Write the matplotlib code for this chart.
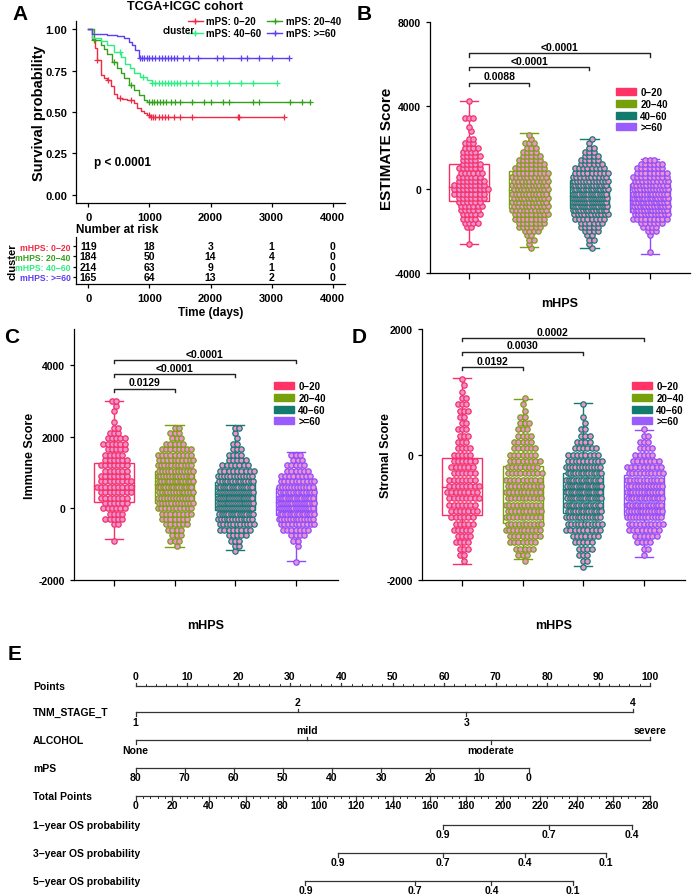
import numpy as np
import matplotlib
matplotlib.use('Agg')
from matplotlib import pyplot as plt
from matplotlib.lines import Line2D
from matplotlib.patches import Patch, Rectangle
from matplotlib import transforms

plt.rcParams['font.family'] = ['Liberation Sans', 'DejaVu Sans']
plt.rcParams['font.weight'] = 'bold'
plt.rcParams['axes.labelweight'] = 'bold'
plt.rcParams['axes.linewidth'] = 0.9

#------------------------  data  ------------------------

# panel A: kaplan-meier steps (time in days, survival)
km_labels = ['mPS: 0−20', 'mPS: 20−40', 'mPS: 40−60', 'mPS: >=60']
km_t_020 = [0, 60, 109, 147, 201, 260, 310, 365, 419, 473, 560, 637, 746, 800, 860, 909, 960, 1018]
km_s_020 = [1.0, 0.94, 0.884, 0.813, 0.723, 0.705, 0.693, 0.659, 0.606, 0.586, 0.578, 0.572, 0.552, 0.522, 0.505, 0.492, 0.48, 0.468]
km_t_2040 = [0, 92, 201, 260, 310, 392, 473, 530, 582, 664, 746, 827, 909, 963]
km_s_2040 = [1.0, 0.934, 0.904, 0.88, 0.853, 0.803, 0.763, 0.735, 0.703, 0.663, 0.633, 0.602, 0.572, 0.558]
km_t_4060 = [0, 65, 201, 310, 419, 528, 609, 691, 746, 854, 963, 1045]
km_s_4060 = [1.0, 0.948, 0.928, 0.904, 0.863, 0.833, 0.793, 0.763, 0.733, 0.713, 0.693, 0.673]
km_t_60 = [0, 65, 310, 473, 582, 664, 718, 773, 827]
km_s_60 = [1.0, 0.974, 0.968, 0.958, 0.948, 0.924, 0.904, 0.873, 0.827]
km_end = [3195, 3630, 3086, 3276]
cens_020 = [150, 330, 520, 700, 1000, 1030, 1060, 1100, 1150, 1200, 1250, 1300, 1400, 1500, 1700, 2450, 2470, 3195]
cens_2040 = [100, 420, 700, 1000, 1050, 1080, 1120, 1170, 1220, 1280, 1350, 1420, 1500, 1700, 1900,
             2000, 2200, 2300, 2700, 2800, 3300, 3500, 3630]
cens_4060 = [520, 900, 1050, 1100, 1150, 1200, 1250, 1300, 1350, 1400, 1450, 1500, 1600, 1700, 1800,
             2000, 2100, 2300, 2500, 2700, 3086]
cens_60 = [850, 880, 920, 960, 1000, 1050, 1100, 1150, 1200, 1250, 1300, 1350, 1400, 1450, 1550, 1650,
           1800, 2100, 2200, 2500, 2600, 2800, 3000, 3276]

risk_labels = ['mHPS: 0−20', 'mHPS: 20−40', 'mHPS: 40−60', 'mHPS: >=60']
risk_times = [0, 1000, 2000, 3000, 4000]
risk_020 = [119, 18, 3, 1, 0]
risk_2040 = [184, 50, 14, 4, 0]
risk_4060 = [214, 63, 9, 1, 0]
risk_60 = [165, 64, 13, 2, 0]

# panels B-D: groups, box statistics and dot counts per value bin
groups = ['0−20', '20−40', '40−60', '>=60']

est_bins = np.arange(-3000, 4201, 200)
est_020 = [0, 0, 1, 0, 0, 0, 2, 4, 4, 5, 5, 6, 6, 7, 8, 9, 8, 7, 6, 6, 6, 5, 4, 5, 4, 4, 3, 2, 0, 1, 1, 0, 3, 0, 0, 0, 1]
est_2040 = [0, 1, 1, 2, 2, 4, 6, 7, 8, 9, 10, 10, 11, 11, 11, 11, 11, 10, 10, 9, 8, 7, 6, 5, 4, 3, 3, 1, 1,
            0, 0, 0, 0, 0, 0, 0, 0]
est_4060 = [0, 1, 1, 2, 2, 4, 5, 6, 8, 11, 14, 16, 17, 17, 16, 15, 14, 12, 10, 9, 8, 6, 5, 4, 3, 2, 1, 1,
            0, 0, 0, 0, 0, 0, 0, 0, 0]
est_60 = [1, 0, 0, 0, 1, 3, 4, 6, 9, 11, 13, 13, 14, 14, 13, 12, 11, 10, 9, 8, 7, 6, 3,
          0, 0, 0, 0, 0, 0, 0, 0, 0, 0, 0, 0, 0, 0]
est_lo = [-2610, -2735, -2815, -3090]
est_q1 = [-560, -895, -895, -1085]
est_med = [100, -50, -335, -495]
est_q3 = [1200, 880, 465, 275]
est_hi = [4200, 2670, 2430, 1440]
est_p = ['0.0088', '<0.0001', '<0.0001']
est_p_y = [5100, 5850, 6500]

imm_bins = np.arange(-1500, 3001, 150)
imm_020 = [0, 0, 0, 0, 1, 0, 0, 2, 5, 4, 6, 6, 7, 8, 9, 8, 7, 6, 7, 6, 5, 5, 6, 5, 3, 2, 1, 0, 1, 1, 2]
imm_2040 = [0, 0, 0, 1, 3, 3, 4, 6, 7, 8, 10, 12, 12, 13, 14, 14, 13, 12, 11, 10, 9, 8, 5, 3, 3, 2, 0,
            0, 0, 0, 0]
imm_4060 = [0, 0, 1, 2, 3, 5, 8, 11, 13, 16, 18, 19, 19, 18, 16, 14, 12, 9, 7, 5, 4, 3, 2, 1, 1, 2,
            0, 0, 0, 0, 0]
imm_60 = [1, 0, 0, 1, 2, 4, 7, 10, 13, 15, 17, 17, 16, 14, 12, 10, 8, 6, 5, 3, 3,
          0, 0, 0, 0, 0, 0, 0, 0, 0, 0]
imm_lo = [-845, -1070, -1160, -1480]
imm_q1 = [187, 140, -47, -195]
imm_med = [620, 670, 390, 170]
imm_q3 = [1255, 1040, 745, 577]
imm_hi = [3000, 2335, 2315, 1570]
imm_p = ['0.0129', '<0.0001', '<0.0001']
imm_p_y = [3340, 3740, 4130]

str_bins = np.arange(-1800, 1201, 100)
str_020 = [0, 1, 2, 3, 4, 4, 5, 5, 6, 7, 7, 8, 8, 8, 7, 6, 6, 6, 5, 4, 3, 3, 3, 2, 2, 3, 3, 2, 1, 1, 1]
str_2040 = [0, 1, 3, 5, 7, 8, 10, 10, 10, 10, 10, 10, 10, 10, 9, 9, 8, 8, 7, 6, 5, 4, 3, 3, 2, 1, 1, 1,
            0, 0, 0]
str_4060 = [1, 2, 3, 4, 5, 7, 9, 11, 13, 14, 15, 16, 16, 16, 15, 14, 12, 10, 8, 6, 4, 3, 2, 1, 1, 0, 1,
            0, 0, 0, 0]
str_60 = [0, 0, 1, 2, 4, 6, 8, 10, 12, 13, 14, 14, 13, 12, 11, 10, 9, 7, 5, 4, 3, 2, 1,
          0, 0, 0, 0, 0, 0, 0, 0]
str_lo = [-1750, -1660, -1780, -1640]
str_q1 = [-960, -1090, -930, -960]
str_med = [-520, -590, -550, -790]
str_q3 = [-60, -185, -300, -320]
str_hi = [1220, 877, 824, 383]
str_p = ['0.0192', '0.0030', '0.0002']
str_p_y = [1393, 1641, 1855]

# panel E: nomogram scales (positions in points, totals in total points)
tnm_levels = ['1', '2', '3', '4']
tnm_points = [0, 31.5, 64.3, 96.7]
alcohol_levels = ['None', 'mild', 'moderate', 'severe']
alcohol_points = [0, 33.3, 69.0, 100]
mps_values = [80, 70, 60, 50, 40, 30, 20, 10, 0]
mps_max_points = 76.4
os1_probs = ['0.9', '0.7', '0.4']
os1_total = [167.5, 225, 270]
os3_probs = ['0.9', '0.7', '0.4', '0.1']
os3_total = [110.4, 167.5, 212, 256]
os5_probs = ['0.9', '0.7', '0.4', '0.1']
os5_total = [92.5, 152, 193.7, 238]

#------------------------  layout helpers  ------------------------
W, H = 693, 895
fig = plt.figure(figsize=(W / 100, H / 100), dpi=100)


def px_axes(l, t, r, b):
    return fig.add_axes([l / W, 1 - b / H, (r - l) / W, (b - t) / H])


def letter(x, y, s):
    fig.text(x / W, 1 - y / H, s, fontsize=15, fontweight='bold', ha='left', va='center')


#------------------------  panel A  ------------------------
km_colors = ['#EE2A45', '#35A01C', '#2BEF80', '#5B3FF2']
km_t = [km_t_020, km_t_2040, km_t_4060, km_t_60]
km_s = [km_s_020, km_s_2040, km_s_4060, km_s_60]
km_c = [cens_020, cens_2040, cens_4060, cens_60]

ax = px_axes(76, 22, 345, 204)
for t, s, end, cens, col in zip(km_t, km_s, km_end, km_c, km_colors):
    tt = list(t) + [end]
    ss = list(s) + [s[-1]]
    ax.step(tt, ss, where='post', color=col, lw=1.0)
    idx = np.searchsorted(tt, cens, side='right') - 1
    ax.plot(cens, np.array(ss)[idx], ls='none', marker='+', ms=4, mew=0.9, color=col)
ax.set_xlim(-200, 4200)
ax.set_ylim(-0.05, 1.05)
ax.set_xticks([0, 1000, 2000, 3000, 4000])
ax.set_yticks([0, 0.25, 0.5, 0.75, 1.0])
ax.set_yticklabels(['0.00', '0.25', '0.50', '0.75', '1.00'])
ax.tick_params(labelsize=8, length=3, width=0.9)
for lab in ax.get_xticklabels() + ax.get_yticklabels():
    lab.set_fontweight('bold')
ax.spines[['top', 'right']].set_visible(False)
ax.set_ylabel('Survival probability', fontsize=10.5)
ax.yaxis.set_label_coords(-0.112, 0.5)
ax.text(90, 0.2, 'p < 0.0001', fontsize=8.5, fontweight='bold', ha='left', va='center')

handles = [Line2D([], [], color=c, marker='+', ms=5, lw=1) for c in km_colors]
order = [0, 2, 1, 3]
ax.legend([handles[i] for i in order], [km_labels[i] for i in order], ncol=2,
          loc='upper left', bbox_to_anchor=(188 / W, 1 - 17 / H), bbox_transform=fig.transFigure,
          frameon=False, fontsize=7, handlelength=1.5, handletextpad=0.4, columnspacing=0.6,
          labelspacing=0.25, borderpad=0, borderaxespad=0)
fig.text(163 / W, 1 - 31 / H, 'cluster', fontsize=7, fontweight='bold', ha='left', va='center')
fig.text(185 / W, 1 - 7 / H, 'TCGA+ICGC cohort', fontsize=9, fontweight='bold', ha='center', va='center')
letter(12, 14, 'A')

# risk table
risk_rows = [risk_020, risk_2040, risk_4060, risk_60]
axr = px_axes(76, 238, 345, 285)
for r, row in enumerate(risk_rows):
    for t, n in zip(risk_times, row):
        axr.text(t, 4 - r, str(n), fontsize=7.5, fontweight='bold', ha='center', va='center')
axr.set_xlim(-200, 4200)
axr.set_ylim(0.3, 4.9)
axr.set_xticks(risk_times)
axr.set_yticks([4, 3, 2, 1])
axr.set_yticklabels(risk_labels)
for lab, col in zip(axr.get_yticklabels(), km_colors):
    lab.set_color(col)
    lab.set_fontweight('bold')
for lab in axr.get_xticklabels():
    lab.set_fontweight('bold')
axr.tick_params(axis='y', labelsize=6.2, length=2.5, width=0.9, pad=1.5)
axr.tick_params(axis='x', labelsize=8, length=3, width=0.9)
axr.spines[['top', 'right']].set_visible(False)
axr.set_xlabel('Time (days)', fontsize=8.5, labelpad=2)
axr.set_ylabel('cluster', fontsize=8, labelpad=2)
axr.yaxis.set_label_coords(-0.218, 0.5)
fig.text(76 / W, 1 - 230 / H, 'Number at risk', fontsize=8.5, fontweight='bold', ha='left', va='center')

#------------------------  panels B, C, D  ------------------------
box_colors = ['#F72F66', '#7B9E12', '#17796F', '#8D4CFF']
patch_colors = ['#FF3366', '#77A10A', '#137A6E', '#9A5CFF']
dot_face = '#EC92CF'


def box_panel(ax, bins, counts, lo, q1, med, q3, hi, pvals, py, drop, dx0):
    for g in range(4):
        col = box_colors[g]
        ys, xs = [], []
        for k, (val, n) in enumerate(zip(bins, counts[g])):
            if n == 0:
                continue
            dx = min(dx0, 0.56 / max(n - 1, 1))
            # stagger every other row so the swarm does not look like a grid
            shift = dx / 2 if k % 2 else 0
            off = (np.arange(n) - (n - 1) / 2) * dx + shift
            xs.extend(g + off)
            ys.extend([val] * n)
        ax.add_patch(Rectangle((g - 0.33, q1[g]), 0.66, q3[g] - q1[g], fill=False,
                               edgecolor=col, lw=1.0, zorder=2))
        ax.plot([g - 0.33, g + 0.33], [med[g], med[g]], color=col, lw=1.0, zorder=2)
        ax.plot([g, g], [q3[g], hi[g]], color=col, lw=1.0, zorder=2)
        ax.plot([g, g], [lo[g], q1[g]], color=col, lw=1.0, zorder=2)
        ax.plot([g - 0.15, g + 0.15], [hi[g], hi[g]], color=col, lw=1.0, zorder=2)
        ax.plot([g - 0.15, g + 0.15], [lo[g], lo[g]], color=col, lw=1.0, zorder=2)
        ax.scatter(xs, ys, s=15, facecolor=dot_face, edgecolor=col, linewidths=0.9, zorder=3)
    for k, (p, y) in enumerate(zip(pvals, py)):
        x1 = k + 1
        ax.plot([0, 0, x1, x1], [y - drop, y, y, y - drop], color='#222222', lw=1.0)
        ax.text(x1 / 2, y + drop * 0.4, p, fontsize=7.5, fontweight='bold', ha='center', va='bottom')
    ax.set_xticks(range(4))
    ax.set_xticklabels([])
    ax.tick_params(axis='x', length=4, width=0.9)
    ax.tick_params(axis='y', length=3, width=0.9, labelsize=7.5)
    ax.spines[['top', 'right']].set_visible(False)
    ax.set_xlabel('mHPS', fontsize=9)


def box_legend(ax, x, y):
    hs = [Patch(facecolor=c, edgecolor=c) for c in patch_colors]
    ax.legend(hs, groups, loc='upper left', bbox_to_anchor=(x / W, 1 - y / H),
              bbox_transform=fig.transFigure, frameon=False, fontsize=7, handlelength=2.1,
              handleheight=0.75, labelspacing=0.18, handletextpad=0.4, borderpad=0, borderaxespad=0)


# B
axb = px_axes(430, 23, 690, 274)
box_panel(axb, est_bins, [est_020, est_2040, est_4060, est_60], est_lo, est_q1, est_med, est_q3,
          est_hi, est_p, est_p_y, 150, 0.07)
axb.set_xlim(-0.65, 3.67)
axb.set_ylim(-4000, 8000)
axb.set_yticks([-4000, 0, 4000, 8000])
axb.set_yticklabels(['-4000', '0', '4000', '8000'])
axb.set_ylabel('ESTIMATE Score', fontsize=11)
axb.yaxis.set_label_coords(-0.14, 0.5)
axb.xaxis.set_label_coords(0.5, -0.095)
box_legend(axb, 616, 88)
letter(357, 14, 'B')

# C
axc = px_axes(74, 330, 338, 581)
box_panel(axc, imm_bins, [imm_020, imm_2040, imm_4060, imm_60], imm_lo, imm_q1, imm_med, imm_q3,
          imm_hi, imm_p, imm_p_y, 90, 0.07)
axc.set_xlim(-0.66, 3.70)
axc.set_ylim(-2000, 5000)
axc.set_yticks([-2000, 0, 2000, 4000])
axc.set_yticklabels(['-2000', '0', '2000', '4000'])
axc.set_ylabel('Immune Score', fontsize=9)
axc.yaxis.set_label_coords(-0.144, 0.5)
axc.xaxis.set_label_coords(0.5, -0.155)
box_legend(axc, 274, 382)
letter(4, 338, 'C')

# D
axd = px_axes(422, 330, 685, 581)
box_panel(axd, str_bins, [str_020, str_2040, str_4060, str_60], str_lo, str_q1, str_med, str_q3,
          str_hi, str_p, str_p_y, 50, 0.07)
axd.set_xlim(-0.66, 3.68)
axd.set_ylim(-2000, 2000)
axd.set_yticks([-2000, 0, 2000])
axd.set_yticklabels(['-2000', '0', '2000'])
axd.set_ylabel('Stromal Score', fontsize=9)
axd.yaxis.set_label_coords(-0.114, 0.5)
axd.xaxis.set_label_coords(0.5, -0.155)
box_legend(axd, 632, 382)
letter(352, 338, 'D')

#------------------------  panel E: nomogram  ------------------------
nfont = ['Liberation Sans Narrow', 'Liberation Sans', 'DejaVu Sans']
axe = px_axes(135.5, 640, 650, 895)
axe.set_xlim(0, 100)
axe.set_ylim(895, 640)
axe.axis('off')
lab_tr = transforms.blended_transform_factory(fig.transFigure, axe.transData)
rows_y = [687, 713, 741, 769, 797, 826, 854, 882]
row_names = ['Points', 'TNM_STAGE_T', 'ALCOHOL', 'mPS', 'Total Points',
             '1−year OS probability', '3−year OS probability', '5−year OS probability']
for name, y in zip(row_names, rows_y):
    axe.text(33 / W, y, name, transform=lab_tr, fontsize=7.5, family=nfont, fontweight='bold',
             ha='left', va='center', clip_on=False)


def scale(y, xs, labels, up, minor=None, tick=3.5):
    lw = 0.9
    axe.plot([min(xs), max(xs)], [y, y], color='#333333', lw=lw, clip_on=False)
    if minor is not None:
        for m in minor:
            axe.plot([m, m], [y, y - 2 if up[0] else y + 2], color='#333333', lw=0.7, clip_on=False)
    for x, lab, u in zip(xs, labels, up):
        axe.plot([x, x], [y, y - tick if u else y + tick], color='#333333', lw=lw, clip_on=False)
        axe.text(x, y - tick - 1 if u else y + tick + 1, lab, fontsize=7.5, family=nfont,
                 fontweight='bold', ha='center', va='bottom' if u else 'top', clip_on=False)


pts_major = list(range(0, 101, 10))
scale(rows_y[0], pts_major, [str(v) for v in pts_major], [True] * 11, minor=np.arange(0, 101, 2))
scale(rows_y[1], tnm_points, tnm_levels, [False, True, False, True])
scale(rows_y[2], alcohol_points, alcohol_levels, [False, True, False, True])
mps_x = [(80 - v) / 80 * mps_max_points for v in mps_values]
scale(rows_y[3], mps_x, [str(v) for v in mps_values], [False] * 9)
tot_major = list(range(0, 281, 20))
scale(rows_y[4], [v / 2.8 for v in tot_major], [str(v) for v in tot_major], [False] * 15,
      minor=np.arange(0, 281, 4) / 2.8)
scale(rows_y[5], [v / 2.8 for v in os1_total], os1_probs, [False] * 3)
scale(rows_y[6], [v / 2.8 for v in os3_total], os3_probs, [False] * 4)
scale(rows_y[7], [v / 2.8 for v in os5_total], os5_probs, [False] * 4)
letter(8, 655, 'E')

fig.savefig('out.png', dpi=100)
